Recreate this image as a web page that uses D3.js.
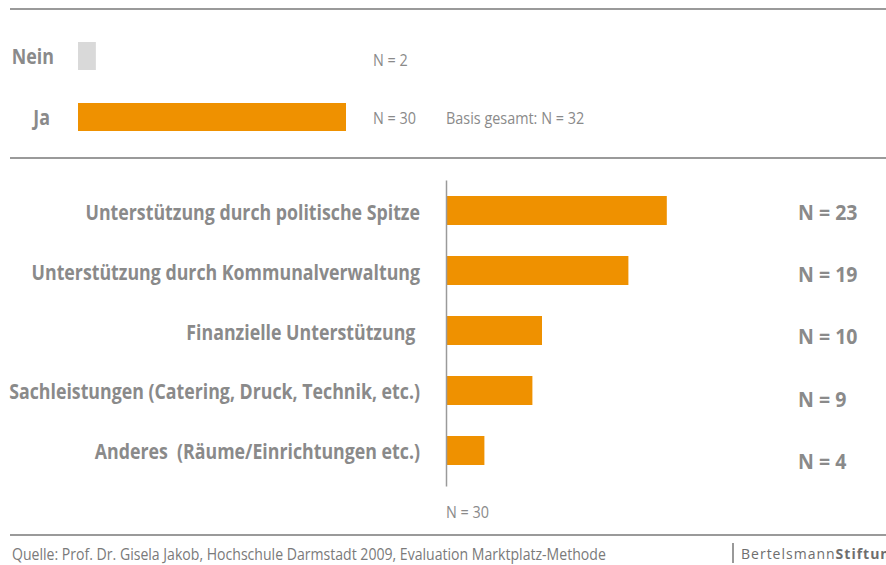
<!DOCTYPE html>
<html>
<head>
<meta charset="utf-8">
<script src="https://cdn.jsdelivr.net/npm/d3@7"></script>
<style>
  html, body { margin: 0; padding: 0; background: #fff; }
  svg { display: block; font-family: "Open Sans", "DejaVu Sans", sans-serif; }
</style>
</head>
<body>
<svg id="chart" width="886" height="565"></svg>
<script>
// Frage 1: Unterstützung erhalten?
const answerCategories = ["Nein", "Ja"];
const answerValues = [2, 30];
const answerLabels = ["N = 2", "N = 30"];
const basisLabel = "Basis gesamt: N = 32";

// Frage 2: Art der Unterstützung
const supportCategories = [
  "Unterstützung durch politische Spitze",
  "Unterstützung durch Kommunalverwaltung",
  "Finanzielle Unterstützung ",
  "Sachleistungen (Catering, Druck, Technik, etc.)",
  "Anderes  (Räume/Einrichtungen etc.)"
];
const supportValues = [23, 19, 10, 9, 4];
const supportLabels = ["N = 23", "N = 19", "N = 10", "N = 9", "N = 4"];
const supportBase = "N = 30";

const sourceText = "Quelle: Prof. Dr. Gisela Jakob, Hochschule Darmstadt 2009, Evaluation Marktplatz-Methode";

const ORANGE = "#EF9100";
const LIGHT = "#D9D9D9";
const TEXT = "#8A8A8A";
const RULE = "#9A9A9A";

const svg = d3.select("#chart");

// condensed look: squeeze text horizontally around its anchor x
const squeeze = (x, s) => `translate(${x},0) scale(${s},1) translate(${-x},0)`;

// horizontal rules
[9, 158, 535].forEach(y => {
  svg.append("line")
    .attr("x1", 10).attr("x2", 886)
    .attr("y1", y).attr("y2", y)
    .attr("stroke", RULE).attr("stroke-width", 2);
});

// ---- upper block ----
const xTop = d3.scaleLinear().domain([0, 30]).range([78, 346]);
const yTop = d3.scaleBand().domain(answerCategories).range([42, 131]).paddingInner(0.541);

const upper = svg.append("g");
upper.selectAll("rect").data(answerCategories).join("rect")
  .attr("x", xTop(0))
  .attr("y", d => yTop(d))
  .attr("width", (d, i) => xTop(answerValues[i]) - xTop(0))
  .attr("height", yTop.bandwidth())
  .attr("fill", (d, i) => i === 0 ? LIGHT : ORANGE);

upper.selectAll("text.cat").data(answerCategories).join("text")
  .attr("class", "cat")
  .attr("x", d => d === "Ja" ? 50 : 54)
  .attr("y", d => yTop(d) + yTop.bandwidth() / 2 + 8)
  .attr("text-anchor", "end")
  .attr("font-size", 21).attr("font-weight", 700)
  .attr("fill", TEXT)
  .attr("transform", d => squeeze(d === "Ja" ? 50 : 54, 0.85))
  .text(d => d);

upper.selectAll("text.n").data(answerLabels).join("text")
  .attr("class", "n")
  .attr("x", 373)
  .attr("y", (d, i) => yTop(answerCategories[i]) + yTop.bandwidth() / 2 + (i === 0 ? 10 : 7))
  .attr("font-size", 16)
  .attr("fill", TEXT)
  .attr("transform", squeeze(373, 0.9))
  .text(d => d);

upper.append("text")
  .attr("x", 446)
  .attr("y", yTop("Ja") + yTop.bandwidth() / 2 + 7)
  .attr("font-size", 16)
  .attr("fill", TEXT)
  .attr("transform", squeeze(446, 0.9))
  .text(basisLabel);

// ---- lower block ----
const xBot = d3.scaleLinear().domain([0, 30]).range([446, 734]);
const yBot = d3.scaleBand().domain(supportCategories).range([196, 465]).paddingInner(0.5167);

const lower = svg.append("g");
lower.selectAll("rect").data(supportCategories).join("rect")
  .attr("x", xBot(0))
  .attr("y", d => yBot(d))
  .attr("width", (d, i) => xBot(supportValues[i]) - xBot(0))
  .attr("height", yBot.bandwidth())
  .attr("fill", ORANGE);

// axis line
const yAxis = d3.axisLeft(d3.scaleLinear().range([180, 486])).ticks(0).tickSize(0);
lower.append("g").attr("transform", `translate(${xBot(0)},0)`).call(yAxis)
  .call(g => g.select(".domain").attr("stroke", RULE).attr("stroke-width", 1.5));

lower.selectAll("text.cat").data(supportCategories).join("text")
  .attr("class", "cat")
  .attr("x", 420)
  .attr("y", (d, i) => yBot(d) + yBot.bandwidth() / 2 + (i < 3 ? 9.5 : 8.5))
  .attr("text-anchor", "end")
  .attr("font-size", 21).attr("font-weight", 700)
  .attr("fill", TEXT)
  .style("white-space", "pre")
  .attr("transform", squeeze(420, 0.846))
  .text(d => d);

lower.selectAll("text.n").data(supportLabels).join("text")
  .attr("class", "n")
  .attr("x", 798)
  .attr("y", (d, i) => yBot(supportCategories[i]) + yBot.bandwidth() / 2 + 9.5 + i * 2.25)
  .attr("font-size", 21).attr("font-weight", 700)
  .attr("fill", TEXT)
  .attr("transform", squeeze(798, 0.93))
  .text(d => d);

lower.append("text")
  .attr("x", 446).attr("y", 518)
  .attr("font-size", 16)
  .attr("fill", TEXT)
  .attr("transform", squeeze(446, 0.9))
  .text(supportBase);

// ---- footer ----
svg.append("text")
  .attr("x", 12).attr("y", 560)
  .attr("font-size", 16)
  .attr("fill", "#7A7A7A")
  .attr("transform", squeeze(12, 0.88))
  .text(sourceText);

svg.append("line")
  .attr("x1", 733).attr("x2", 733).attr("y1", 543).attr("y2", 563)
  .attr("stroke", "#777").attr("stroke-width", 1.5);

const logo = svg.append("text")
  .attr("x", 741).attr("y", 559)
  .attr("font-size", 14)
  .attr("fill", "#6E6E6E")
  .attr("letter-spacing", 1);
logo.append("tspan").attr("font-weight", 400).text("Bertelsmann");
logo.append("tspan").attr("font-weight", 700).text("Stiftung");
</script>
</body>
</html>
